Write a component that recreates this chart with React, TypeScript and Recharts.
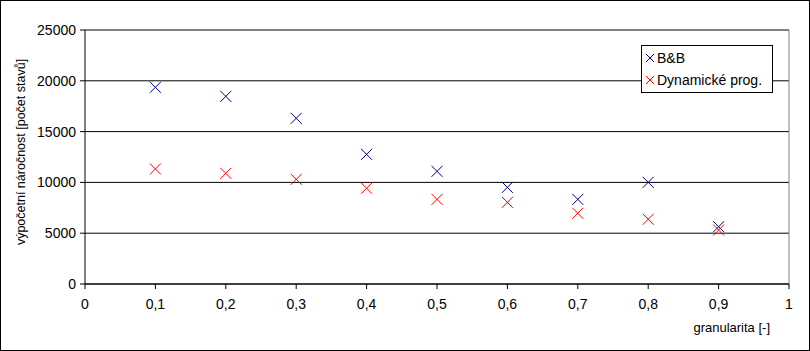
import {
  CartesianGrid,
  Legend,
  ReferenceLine,
  Scatter,
  ScatterChart,
  XAxis,
  YAxis,
} from "recharts"

const granularity = [0.1, 0.2, 0.3, 0.4, 0.5, 0.6, 0.7, 0.8, 0.9]
const bnbStates = [19360, 18470, 16310, 12760, 11090, 9510, 8330, 10010, 5640]
const dynStates = [11320, 10890, 10300, 9420, 8330, 8040, 6960, 6370, 5310]
const xTicks = [0, 0.1, 0.2, 0.3, 0.4, 0.5, 0.6, 0.7, 0.8, 0.9, 1]
const yTicks = [0, 5000, 10000, 15000, 20000, 25000]

const FONT = "'Liberation Sans', Arial, sans-serif"
const BLUE = "#000080"
const RED = "#ff0000"

const bnbData = granularity.map((x, i) => ({ x, y: bnbStates[i] }))
const dynData = granularity.map((x, i) => ({ x, y: dynStates[i] }))

// Excel-style "x" marker
function cross(color: string) {
  return (props: any) => {
    const { cx, cy } = props
    const r = 5.5
    return (
      <g stroke={color} strokeWidth={1}>
        <line x1={cx - r} y1={cy - r} x2={cx + r} y2={cy + r} />
        <line x1={cx - r} y1={cy + r} x2={cx + r} y2={cy - r} />
      </g>
    )
  }
}

function LegendBox() {
  const items = [
    { name: "B&B", color: BLUE },
    { name: "Dynamické prog.", color: RED },
  ]
  return (
    <div
      style={{
        border: "1px solid #000",
        background: "#fff",
        padding: "1px 2px 1px 3px",
        fontFamily: FONT,
        fontSize: 14,
        lineHeight: "22px",
        color: "#000",
        width: 132,
        boxSizing: "border-box",
      }}
    >
      {items.map((it) => (
        <div key={it.name} style={{ display: "flex", alignItems: "center" }}>
          <svg width={10} height={10} style={{ marginRight: 2 }}>
            <g stroke={it.color} strokeWidth={1}>
              <line x1={1} y1={1} x2={9} y2={9} />
              <line x1={1} y1={9} x2={9} y2={1} />
            </g>
          </svg>
          <span style={{ whiteSpace: "nowrap" }}>{it.name}</span>
        </div>
      ))}
    </div>
  )
}

export default function App() {
  return (
    <div
      style={{
        position: "absolute",
        left: 0,
        top: 0,
        width: 810,
        height: 351,
        background: "#fff",
      }}
    >
      <ScatterChart
        width={810}
        height={351}
        margin={{ top: 30, right: 21, left: 0, bottom: 0 }}
      >
        <CartesianGrid vertical={false} stroke="#000" strokeOpacity={1} />
        <XAxis
          type="number"
          dataKey="x"
          domain={[0, 1]}
          ticks={xTicks}
          height={67}
          stroke="#000"
          tickSize={5}
          tickMargin={10}
          interval={0}
          tickFormatter={(v: number) => String(v).replace(".", ",")}
          tick={{ fill: "#000", fontSize: 14, fontFamily: FONT }}
          label={{
            content: (p: any) => {
              const vb = p.viewBox
              return (
                <text
                  x={vb.x + vb.width - 19}
                  y={vb.y + 48}
                  textAnchor="end"
                  fontFamily={FONT}
                  fontSize={13}
                  fill="#000"
                >
                  granularita [-]
                </text>
              )
            },
          }}
        />
        <YAxis
          type="number"
          dataKey="y"
          domain={[0, 25000]}
          ticks={yTicks}
          width={85}
          stroke="#000"
          tickSize={5}
          tickMargin={4}
          interval={0}
          tick={{ fill: "#000", fontSize: 14, fontFamily: FONT }}
          label={{
            content: (p: any) => {
              const vb = p.viewBox
              const cx = 21
              const cy = vb.y + vb.height / 2 - 5
              return (
                <text
                  x={cx}
                  y={cy}
                  transform={`rotate(-90 ${cx} ${cy})`}
                  textAnchor="middle"
                  dominantBaseline="central"
                  fontFamily={FONT}
                  fontSize={12.5}
                  fill="#000"
                >
                  výpočetní náročnost [počet stavů]
                </text>
              )
            },
          }}
        />
        <ReferenceLine y={25000} stroke="#808080" />
        <ReferenceLine x={1} stroke="#808080" />
        <Legend
          content={() => <LegendBox />}
          layout="horizontal"
          verticalAlign="middle"
          align="center"
          wrapperStyle={{ top: 45, left: 641, width: "auto", right: "auto" }}
        />
        <Scatter
          name="B&B"
          data={bnbData}
          fill={BLUE}
          shape={cross(BLUE)}
          isAnimationActive={false}
        />
        <Scatter
          name="Dynamické prog."
          data={dynData}
          fill={RED}
          shape={cross(RED)}
          isAnimationActive={false}
        />
      </ScatterChart>
      <div
        style={{
          position: "absolute",
          inset: 0,
          border: "1px solid #000",
          pointerEvents: "none",
        }}
      />
    </div>
  )
}
